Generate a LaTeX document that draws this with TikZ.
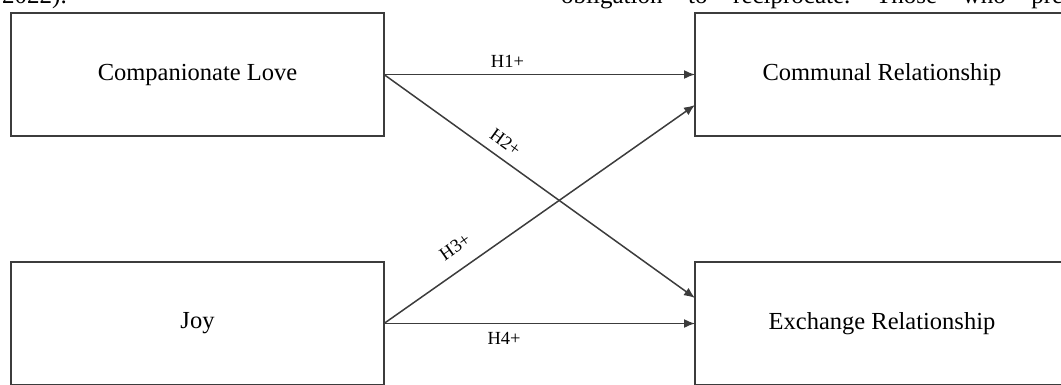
\documentclass[tikz,border=0pt]{standalone}
\usepackage{fontspec}
\setmainfont{Liberation Serif}
\usetikzlibrary{arrows.meta}
\definecolor{linegray}{HTML}{3C3C3C}
\frenchspacing
\tikzset{
  box/.style={draw=linegray, line width=1.6pt, minimum width=373pt, minimum height=123pt,
    inner sep=0pt, outer sep=0pt, font=\fontsize{24.5}{29}\selectfont, text=black},
  conn/.style={draw=linegray, line width=1.5pt, -{Latex[length=11pt,width=9pt]}},
  hlab/.style={inner sep=0pt, font=\fontsize{18.5}{22}\selectfont, text=black},
  bodytext/.style={inner sep=0pt, anchor=base west, font=\fontsize{25}{29}\selectfont, text=black}
}
\begin{document}
\begin{tikzpicture}[x=1pt,y=-1pt]
\useasboundingbox (0,0) rectangle (1061,384);
\clip (0,0) rectangle (1061,384);
\node[bodytext] (t1) at (2,3.5) {2022).};
\node[bodytext] (t2) at (561,3.5) {\makebox[502pt][s]{obligation to reciprocate. Those who pre}};
\node[box] (CL) at (197.5,74.5) {Companionate Love};
\node[box, minimum width=374pt] (CR) at (882,74.5) {Communal Relationship};
\node[box] (JY) at (197.5,323.5) {Joy};
\node[box, minimum width=374pt] (ER) at (882,323.5) {Exchange Relationship};
\draw[conn] (CL.east) -- node[hlab, pos=0.397, above=6.4pt] (h1) {H1+} (CR.west);
\draw[conn] (CL.east) -- node[hlab, pos=0.361, sloped, above=9pt] (h2) {H2+} ([yshift=25.5pt]ER.west);
\draw[conn] (JY.east) -- node[hlab, pos=0.269, sloped, above=15pt] (h3) {H3+} ([yshift=-30.5pt]CR.west);
\draw[conn] (JY.east) -- node[hlab, pos=0.386, below=8.4pt] (h4) {H4+} (ER.west);
\end{tikzpicture}
\end{document}
